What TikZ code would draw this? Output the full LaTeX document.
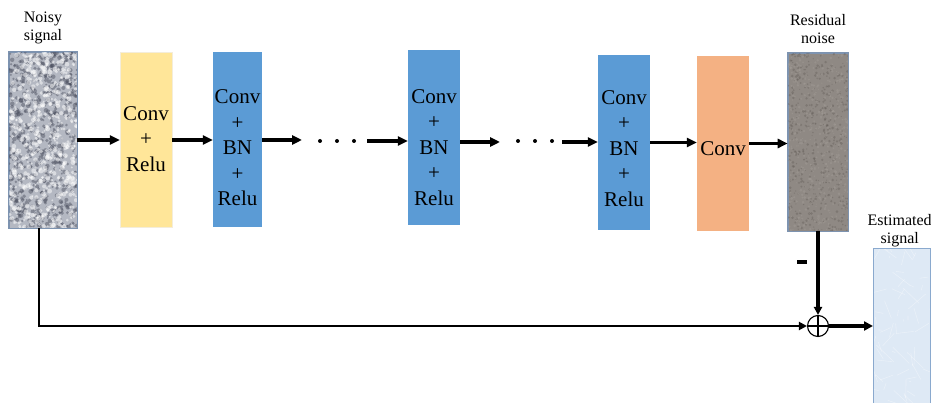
\documentclass[tikz,border=0pt]{standalone}
\usepackage{fontspec}
\setmainfont{Liberation Serif}
\usetikzlibrary{arrows.meta}

\definecolor{convyellow}{HTML}{FFE699}
\definecolor{bnblue}{HTML}{5B9BD5}
\definecolor{lastorange}{HTML}{F4B183}
\definecolor{noisebase}{HTML}{B4B8C2}
\definecolor{noisedark}{HTML}{4A4E5E}
\definecolor{resbase}{HTML}{8F8984}
\definecolor{resdark}{HTML}{5E5853}
\definecolor{reslight}{HTML}{A8A29C}
\definecolor{estfill}{HTML}{DEE9F5}
\definecolor{imgborder}{HTML}{7D93B0}
\definecolor{estborder}{HTML}{8AA9CE}

\tikzset{
  layer/.style={minimum width=52pt, minimum height=175pt, inner sep=0pt},
  layertext/.style={align=center, inner sep=0pt, font=\fontsize{21}{25.5}\selectfont},
  img/.style={minimum width=#1, minimum height=176pt, inner sep=0pt, draw=imgborder, line width=0.6pt},
  lbl/.style={align=center, font=\fontsize{16}{18}\selectfont, inner sep=0pt},
  flow/.style={line width=3.5pt, -{Triangle[length=10pt,width=9pt]}},
  skip/.style={line width=2.8pt},
  dotmark/.style={fill=black},
  sumnode/.style={circle, draw, line width=1.1pt, minimum size=21pt, inner sep=0pt,
    path picture={\draw[line width=1.1pt]
      (path picture bounding box.north) -- (path picture bounding box.south)
      (path picture bounding box.west) -- (path picture bounding box.east);}}
}

\begin{document}
\begin{tikzpicture}[x=1pt,y=-1pt]
\useasboundingbox (0,0) rectangle (931,403);
\pgfmathsetseed{4242}

% input and output images
\node[img=68pt, fill=noisebase] (noisy) at (43,140) {};
\node[img=60pt, minimum height=178pt, fill=resbase] (res) at (818,142) {};
\node[minimum width=57pt, minimum height=160pt, inner sep=0pt, fill=estfill,
      anchor=north west] (est) at (873,248) {};

% speckle of the noisy input
\begin{scope}
  \clip (noisy.south west) rectangle (noisy.north east);
  \foreach \i in {1,...,650}{
    \pgfmathsetmacro\px{9+68*rnd}\pgfmathsetmacro\py{52+176*rnd}\pgfmathsetmacro\pr{1+1.4*rnd}
    \fill[noisedark, opacity=0.45] (\px,\py) circle[radius=\pr pt];
  }
  \foreach \i in {1,...,600}{
    \pgfmathsetmacro\px{9+68*rnd}\pgfmathsetmacro\py{52+176*rnd}\pgfmathsetmacro\pr{1+1.5*rnd}
    \fill[white, opacity=0.5] (\px,\py) circle[radius=\pr pt];
  }
\end{scope}
\draw[imgborder, line width=0.6pt] (noisy.south west) rectangle (noisy.north east);

% speckle of the residual noise
\begin{scope}
  \clip (res.south west) rectangle (res.north east);
  \foreach \i in {1,...,500}{
    \pgfmathsetmacro\px{788+60*rnd}\pgfmathsetmacro\py{53+178*rnd}\pgfmathsetmacro\pr{0.5+1*rnd}
    \fill[resdark, opacity=0.35] (\px,\py) circle[radius=\pr pt];
  }
  \foreach \i in {1,...,500}{
    \pgfmathsetmacro\px{788+60*rnd}\pgfmathsetmacro\py{53+178*rnd}\pgfmathsetmacro\pr{0.5+1*rnd}
    \fill[reslight, opacity=0.35] (\px,\py) circle[radius=\pr pt];
  }
\end{scope}
\draw[imgborder, line width=0.6pt] (res.south west) rectangle (res.north east);

% faint texture of the estimated signal
\begin{scope}
  \clip (est.south west) rectangle (est.north east);
  \foreach \i in {1,...,70}{
    \pgfmathsetmacro\px{873+57*rnd}\pgfmathsetmacro\py{248+160*rnd}
    \pgfmathsetmacro\qx{\px-18+36*rnd}\pgfmathsetmacro\qy{\py-18+36*rnd}
    \draw[white, opacity=0.35, line width=0.6pt] (\px,\py) -- (\qx,\qy);
  }
\end{scope}
\draw[estborder, line width=0.9pt] (est.south west) rectangle (est.north east);

% network layers
\node[layer, fill=convyellow, draw=convyellow!85!black!30!white, line width=0.4pt] (c1) at (146,140) {};
\node[layer, minimum width=49pt, fill=bnblue] (b1) at (237.5,140) {};
\node[layer, fill=bnblue] (b2) at (434,137.5) {};
\node[layer, fill=bnblue] (b3) at (624,142.5) {};
\node[layer, fill=lastorange] (c2) at (723,143.5) {};

\node[layertext] (c1t) at ([yshift=1pt]c1.center) {Conv\\+\\Relu};
\node[layertext] (b1t) at ([yshift=-8pt]b1.center) {Conv\\+\\BN\\+\\Relu};
\node[layertext] (b2t) at ([yshift=-10pt]b2.center) {Conv\\+\\BN\\+\\Relu};
\node[layertext] (b3t) at ([yshift=-6pt]b3.center) {Conv\\+\\BN\\+\\Relu};
\node[layertext] (c2t) at ([yshift=-5pt]c2.center) {Conv};

% labels
\node[lbl, anchor=south] (lnoisy) at ([yshift=8pt]noisy.north) {Noisy\\signal};
\node[lbl, anchor=south] (lres) at ([yshift=9pt]res.north) {Residual\\noise};
\node[lbl, anchor=south] (lest) at ([xshift=-2pt,yshift=1pt]est.north) {Estimated\\signal};

% gaps in the chain of layers
\coordinate (g1a) at (302,140);
\coordinate (g1b) at (367,141);
\coordinate (g2a) at (500,142);
\coordinate (g2b) at (562,142);
\foreach \x in {320,337,354}{\fill[dotmark] (\x,141) circle[radius=2pt];}
\foreach \x in {518,535,552}{\fill[dotmark] (\x,141) circle[radius=2pt];}

% main data flow
\draw[flow] (noisy.east) -- (c1.west);
\draw[flow] (c1.east) -- (b1.west);
\draw[flow] (b1.east) -- (b1.east -| g1a);
\draw[flow] (g1b) -- (b2.west |- g1b);
\draw[flow] (b2.east |- g2a) -- (g2a);
\draw[flow] (g2b) -- (b3.west |- g2b);
\draw[flow] (b3.east) -- (c2.west |- b3.east);
\draw[flow] (c2.east) -- (res.west |- c2.east);

% subtraction of the residual noise
\node[sumnode] (sum) at (818,326) {};
\node[inner sep=0pt] (minus) at (802,262) {\rule{10pt}{3.5pt}};
\draw[line width=3.5pt, -{Triangle[length=8pt,width=8pt]}] (res.south) -- (sum.north);
\draw[skip, -{Triangle[length=8pt,width=8pt]}]
  ([xshift=-4pt]noisy.south) -- ([xshift=-4pt]noisy.south |- sum) -- (sum.west);
\draw[line width=3.5pt, -{Triangle[length=9pt,width=9pt]}] (sum.east) -- (est.west |- sum);
\end{tikzpicture}
\end{document}
